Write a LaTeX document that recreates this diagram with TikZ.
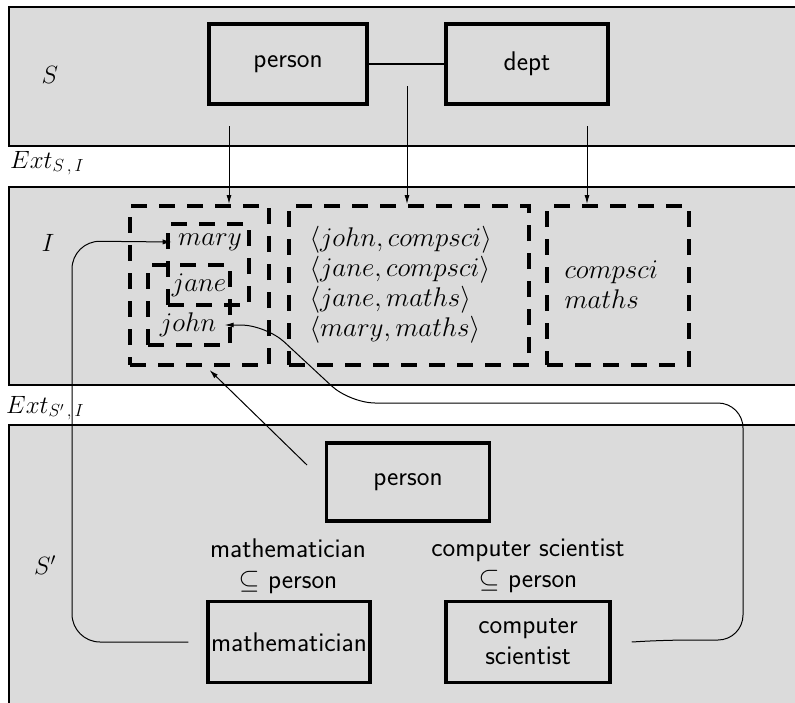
\RequirePackage{fix-cm}
\documentclass[tikz,border=0pt]{standalone}
\usepackage{fontspec}
\usetikzlibrary{arrows.meta}
\definecolor{bandgray}{gray}{0.86}

\begin{document}
\begin{tikzpicture}[x=1pt,y=-1pt,>={Latex[length=9pt,width=5pt]},
        every node/.style={font=\fontsize{27}{30}\selectfont}]
        \useasboundingbox (0,0) rectangle (795,702);
        \clip (0,0) rectangle (795,702);

        \tikzstyle{band}=[draw,line width=2pt,fill=bandgray]
        \tikzstyle{sans}=[font=\fontsize{27}{31}\selectfont\sffamily\addfontfeature{LetterSpace=4}]
        \tikzstyle{entity}=[draw,line width=3.5pt,sans,inner sep=0pt]
        \tikzstyle{extent}=[draw,line width=4pt,dash pattern=on 16pt off 12pt,inner sep=0pt]
        \tikzstyle{link}=[line width=1pt]

        % the three layers
        \draw[band] (9,7) rectangle (815,146);
        \draw[band] (9,187) rectangle (815,385);
        \draw[band] (9,425) rectangle (815,720);

        \node[font=\fontsize{25}{29}\selectfont] (lbl_s) at (50,75) {$S$};
        \node[font=\fontsize{25}{29}\selectfont] (lbl_i) at (48,243) {$I$};
        \node[font=\fontsize{25}{29}\selectfont] (lbl_s2) at (45,565) {$S'$};
        \node[anchor=base west,inner sep=0pt,font=\fontsize{25}{29}\selectfont] (ext_si) at (10,168) {$Ext_{S\,,\,I}$};
        \node[anchor=base west,inner sep=0pt,font=\fontsize{25}{29}\selectfont] (ext_s2i) at (6,413) {$Ext_{S'\,,\,I}$};

        % schema S
        \node[entity,minimum width=158,minimum height=80] (person) at (288,64) {person};
        \node[entity,minimum width=162,minimum height=80] (dept) at (527,64) {dept};
        \draw[line width=1.5pt] (person.east) -- (dept.west);

        % instance I
        \node[extent,minimum width=139,minimum height=159] (ext_person) at (199.5,285.5) {};
        \node[extent,minimum width=240,minimum height=159] (ext_pair) at (409,285.5) {};
        \node[extent,minimum width=142,minimum height=159] (ext_dept) at (618,285.5) {};
        \node[extent,minimum width=81,minimum height=81] (ext_mary) at (208.5,264.5) {};
        \node[extent,minimum width=82,minimum height=80] (ext_jane) at (189,305) {};

        \node (t_mary) at (210,242) {$mary$};
        \node (t_jane) at (199,285) {$jane$};
        \node (t_john) at (188,325) {$john$};
        \node[anchor=west,align=left] (t_pairs) at (306,285)
            {$\langle john,compsci\rangle$\\$\langle jane,compsci\rangle$\\$\langle jane,maths\rangle$\\$\langle mary,maths\rangle$};
        \node[anchor=west,align=left] (t_depts) at (561,285) {$compsci$\\$maths$};

        \foreach \x/\y/\b in {229/126/ext_person, 407/86/ext_pair, 587/126/ext_dept} {
            \coordinate (src_\b) at (\x,\y);
            \draw[link,->] (src_\b) -- (src_\b |- \b.north);
        }

        % schema S'
        \node[entity,minimum width=163,minimum height=78] (sub_person) at (408,482) {person};
        \node[entity,minimum width=162,minimum height=81] (sub_math) at (289,642) {mathematician};
        \node[entity,minimum width=164,minimum height=81,align=center] (sub_cs) at (528,642) {computer\\scientist};
        \node[sans,align=center] (lbl_math) at (288,566) {mathematician\\$\subseteq$ person};
        \node[sans,align=center] (lbl_cs) at (528,566) {computer scientist\\$\subseteq$ person};

        \coordinate (src_sub) at (307,465);
        \draw[link,->] (src_sub) -- ([xshift=10pt,yshift=-3pt]ext_person.south);
        \draw[link,->,rounded corners=28pt] ([xshift=-18pt]sub_math.west) -- (72,642) -- (72,241) -- ([xshift=-3pt]t_mary.west);
        \draw[link,->,rounded corners=25pt] ([xshift=20pt]sub_cs.east) -- (665,640) -- (743,640)
            -- (743,403) -- (350,403) -- (266,325) -- ([xshift=5pt]t_john.east);
    \end{tikzpicture}
\end{document}
